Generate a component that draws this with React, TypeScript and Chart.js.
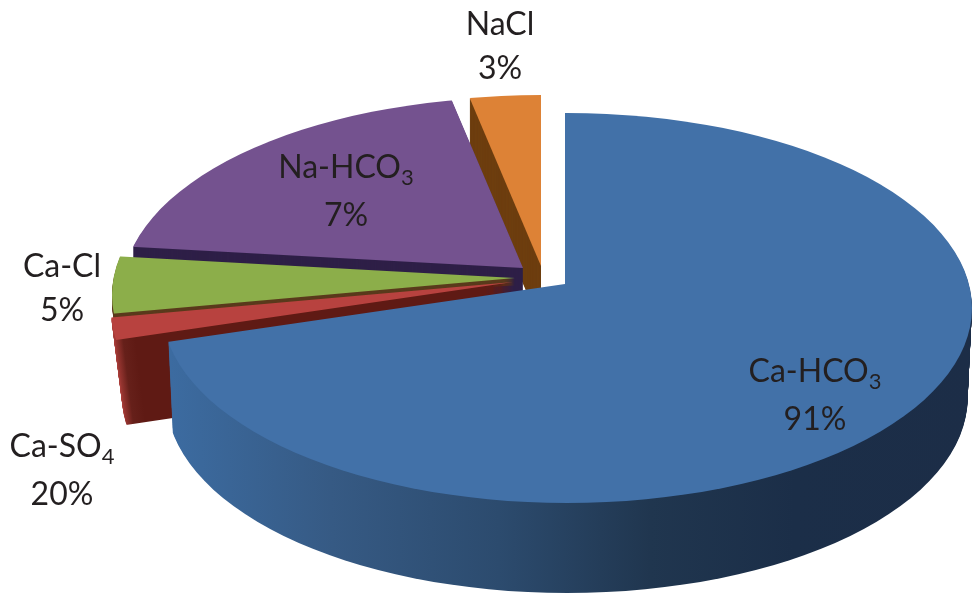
import React, { useEffect, useRef } from "react";
import { Chart, registerables } from "chart.js";

Chart.register(...registerables);

// ---- data ----
const categories = ["Ca-HCO3", "Ca-SO4", "Ca-Cl", "Na-HCO3", "NaCl"];
const sliceShares = [70.3, 1.8, 4.7, 20.0, 3.2];
const printedPercents = ["91%", "20%", "5%", "7%", "3%"];

// ---- styles ----
const faceColors = ["#4271a8", "#b8423f", "#8cae4a", "#74528f", "#dd8236"];
const wallColors = ["#1c2e48", "#5f1a14", "#5a3a1c", "#2e1f47", "#6e3f10"];
const wallDepths = [90, 85, 7, 35, 60];
const wallNarrowing = [0.00012, 0.00028, 0, 0, 0];
const apexX = [565, 513, 515, 523, 541];
const apexY = [284, 282, 278, 268, 266];
const rimX = [567, 516, 517, 527, 541];
const rimY = [308, 310, 295, 292, 290];
const RIM_RX = 405;
const RIM_RY = 195;
const TILT = 0.48;
const VANISH_X = 565;
const WIDTH = 972;
const HEIGHT = 597;
const labelX = [815, 62, 62, 346, 500];
const labelY = [372, 447, 267, 168, 25];
const LINE_GAP = 44;

function wallStyle(ctx: CanvasRenderingContext2D, i: number, localShift: number) {
  if (i === 0) {
    const g = ctx.createLinearGradient(170 + localShift, 0, 972 + localShift, 0);
    g.addColorStop(0, "#3c6ba0");
    g.addColorStop(0.2, "#365a84");
    g.addColorStop(0.41, "#2c4b6e");
    g.addColorStop(0.6, "#20364f");
    g.addColorStop(0.78, "#1b2e48");
    g.addColorStop(1, "#1c2d47");
    return g;
  }
  if (i === 1) {
    const g = ctx.createLinearGradient(113 + localShift, 0, 135 + localShift, 0);
    g.addColorStop(0, "#a83c38");
    g.addColorStop(0.45, "#66201a");
    g.addColorStop(1, wallColors[1]);
    return g;
  }
  return wallColors[i];
}

const tiltedPie = {
  id: "tiltedPie",
  beforeDatasetDraw(chart: any, args: any) {
    const ctx: CanvasRenderingContext2D = chart.ctx;
    const arcs = args.meta.data;
    const paint = (arc: any, i: number, drop: number, fill: any) => {
      ctx.save();
      ctx.translate(VANISH_X, drop);
      ctx.scale(1 - wallNarrowing[i] * drop, 1);
      ctx.translate(-VANISH_X, 0);
      ctx.beginPath();
      ctx.ellipse(rimX[i], rimY[i], RIM_RX, RIM_RY, 0, 0, Math.PI * 2);
      ctx.clip();
      ctx.translate(apexX[i], apexY[i]);
      ctx.scale(1, TILT);
      ctx.translate(-arc.x, -arc.y);
      const saved = arc.options;
      arc.options = { ...saved, backgroundColor: fill };
      arc.draw(ctx);
      arc.options = saved;
      ctx.restore();
    };
    for (let i = arcs.length - 1; i >= 0; i--) {
      const arc = arcs[i];
      const wall = wallStyle(ctx, i, arc.x - apexX[i]);
      for (let d = wallDepths[i]; d >= 1; d--) paint(arc, i, d, wall);
      paint(arc, i, 0, faceColors[i]);
    }
    return false;
  },
};

function Label({ index }: { index: number }) {
  const parts = categories[index].match(/^(.*?)(\d*)$/) as RegExpMatchArray;
  return (
    <div
      style={{
        position: "absolute",
        left: labelX[index] - 120,
        top: labelY[index] - 24,
        width: 240,
        textAlign: "center",
        font: "32px Lato, sans-serif",
        lineHeight: `${LINE_GAP}px`,
        color: "#231f20",
      }}
    >
      <div>
        {parts[1]}
        {parts[2] ? (
          <span style={{ fontSize: 22, position: "relative", top: 7 }}>{parts[2]}</span>
        ) : null}
      </div>
      <div>{printedPercents[index]}</div>
    </div>
  );
}

export default function App() {
  const ref = useRef<HTMLCanvasElement>(null);
  useEffect(() => {
    const chart = new Chart(ref.current as HTMLCanvasElement, {
      type: "pie",
      data: {
        labels: categories,
        datasets: [
          {
            data: sliceShares,
            backgroundColor: faceColors,
            borderWidth: 0,
          },
        ],
      },
      options: {
        responsive: false,
        animation: false,
        events: [],
        radius: 1000,
        plugins: { legend: { display: false }, tooltip: { enabled: false } },
      } as any,
      plugins: [tiltedPie],
    });
    return () => chart.destroy();
  }, []);
  return (
    <div
      style={{
        position: "absolute",
        left: 0,
        top: 0,
        width: WIDTH,
        height: HEIGHT,
        overflow: "hidden",
        background: "#ffffff",
      }}
    >
      <canvas ref={ref} width={WIDTH} height={HEIGHT} style={{ display: "block" }} />
      {categories.map((_, i) => (
        <Label key={i} index={i} />
      ))}
    </div>
  );
}
